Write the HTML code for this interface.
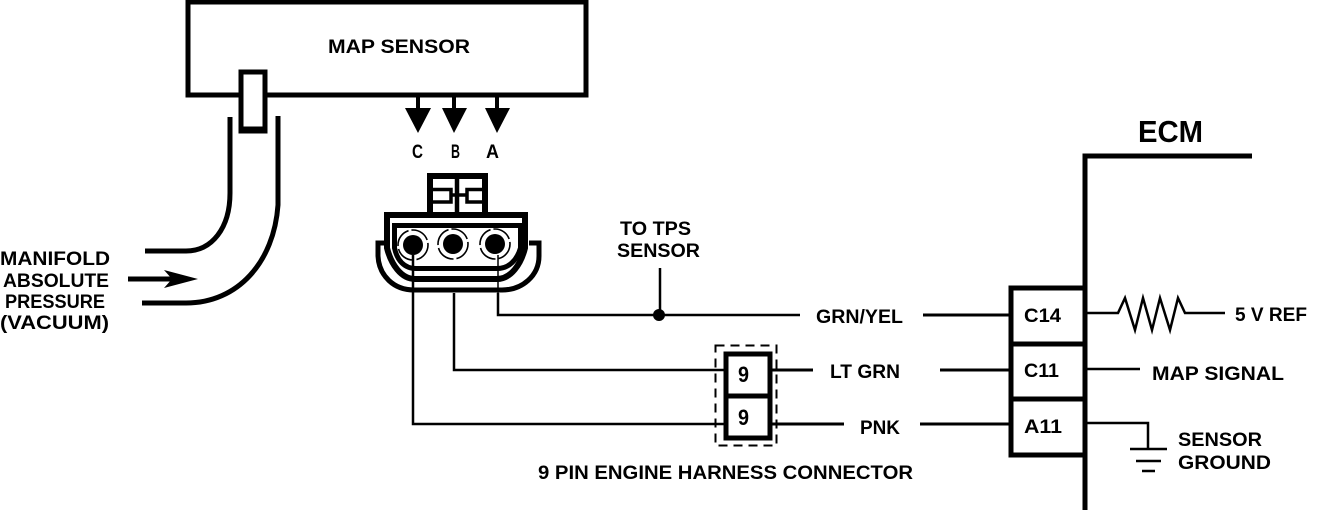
<!DOCTYPE html>
<html><head><meta charset="utf-8"><style>
html,body{margin:0;padding:0;background:#fff}
svg{display:block}
text{font-family:"Liberation Sans",sans-serif;font-weight:bold;fill:#000}
</style></head><body>
<svg width="1328" height="510" viewBox="0 0 1328 510" xmlns="http://www.w3.org/2000/svg">
<g fill="none" stroke="#000" stroke-width="5">
<!-- map box -->
<path d="M188,2 H586 V95 H188 Z"/>
<rect x="241" y="72" width="24" height="59" fill="#fff" stroke-width="5"/>
<path d="M239,130 H267" stroke-width="7"/>
<!-- tube -->
<path d="M230,117 V193 C230,228 212,251 186,251 H145" stroke-width="5"/>
<path d="M278,116 V205 C274,262 238,303 186,303 H142" stroke-width="5"/>
<path d="M128,279 H172" stroke-width="5"/>
<!-- arrow stems -->
<path d="M418,96 V110 M454,96 V110 M497,96 V110" stroke-width="4"/>
<!-- connector top latch -->
<path d="M430,212 V176 H485 V212" stroke-width="6"/>
<path d="M433,189.500 H451 V202 H433" stroke-width="3.500"/>
<path d="M483,189.500 H467 V202 H483" stroke-width="3.500"/>
<path d="M457,176 V212" stroke-width="4.500"/>
<path d="M451,195 H467" stroke-width="3.500"/>
<!-- connector body -->
<path d="M387,248 V215 H525 V248 C521,264 511,279 497,279 H415 C401,279 391,264 387,248 Z" stroke-width="6" fill="#fff"/>
<path d="M394.500,225.500 H520.500 V248 C517,260 509,268.500 497,268.500 H416 C404,268.500 397,260 394.500,248 Z" stroke-width="5"/>
<path d="M386,243 H378 V256 C379,276 394,290 414,290 H502 C522,290 539,276 539,256 V243 H529" stroke-width="5"/>
<g stroke-width="1.6" stroke-dasharray="20 3"><circle cx="413" cy="245" r="15"/><circle cx="453" cy="244" r="15"/><circle cx="495" cy="244" r="15"/></g>
<!-- wires -->
<path d="M413,255 V424 H724" stroke-width="2.500"/>
<path d="M454,293 V370 H724" stroke-width="2.500"/>
<path d="M498,293 V315 H800" stroke-width="2.500"/>
<path d="M498,255 V293" stroke-width="1.500"/>
<path d="M660,268 V315" stroke-width="2.500"/>
<path d="M923,315 H1011 M940,370 H1011 M920,424 H1011" stroke-width="3"/>
<path d="M771,370 H813 M771,424 H844" stroke-width="3"/>
<!-- 9 pin -->
<rect x="726" y="354" width="44" height="84" stroke-width="5"/>
<path d="M726,396 H770" stroke-width="5"/>
<rect x="715.500" y="345.500" width="61" height="100" stroke-width="2" stroke-dasharray="9 6"/>
<!-- ecm -->
<path d="M1252,156 H1085 V510" stroke-width="5"/>
<path d="M1085,288 H1011 V455 H1085 M1011,344 H1085 M1011,399 H1085" stroke-width="5"/>
<path d="M1086,313 H1118 L1125,298 L1135,330 L1143,298 L1152,330 L1160,298 L1170,330 L1178,298 L1185,313 H1225" stroke-width="2.500"/>
<path d="M1086,369 H1140" stroke-width="2.500"/>
<path d="M1086,423 H1148 V449" stroke-width="2.500"/>
<path d="M1130,449 H1167 M1136,461 H1161 M1142,471 H1155" stroke-width="2.500"/>
</g>
<g fill="#000">
<polygon points="405,108 431,108 418,133"/>
<polygon points="442,108 467,108 454,133"/>
<polygon points="485,108 510,108 497,133"/>
<polygon points="164,270 198,279 164,288 172,279"/>
<circle cx="413" cy="245" r="10"/><circle cx="453" cy="244" r="10"/><circle cx="495" cy="244" r="10"/>
<circle cx="659" cy="315" r="6"/>
</g>
<g font-size="19">
<text x="328" y="53" textLength="142" lengthAdjust="spacingAndGlyphs">MAP SENSOR</text>
<text x="412" y="158" textLength="11" lengthAdjust="spacingAndGlyphs">C</text>
<text x="451" y="158" textLength="9" lengthAdjust="spacingAndGlyphs">B</text>
<text x="486" y="158" textLength="13" lengthAdjust="spacingAndGlyphs">A</text>
<text x="0" y="265" textLength="110" lengthAdjust="spacingAndGlyphs">MANIFOLD</text>
<text x="3" y="287" textLength="106" lengthAdjust="spacingAndGlyphs">ABSOLUTE</text>
<text x="5" y="308" textLength="100" lengthAdjust="spacingAndGlyphs">PRESSURE</text>
<text x="0" y="329" textLength="109" lengthAdjust="spacingAndGlyphs">(VACUUM)</text>
<text x="620" y="235" textLength="71" lengthAdjust="spacingAndGlyphs">TO TPS</text>
<text x="617" y="257" textLength="83" lengthAdjust="spacingAndGlyphs">SENSOR</text>
<text x="816" y="323" textLength="87" lengthAdjust="spacingAndGlyphs">GRN/YEL</text>
<text x="830" y="378" textLength="70" lengthAdjust="spacingAndGlyphs">LT GRN</text>
<text x="860" y="434" textLength="40" lengthAdjust="spacingAndGlyphs">PNK</text>
<text x="738" y="382" textLength="11" lengthAdjust="spacingAndGlyphs" font-size="22">9</text>
<text x="738" y="425" textLength="11" lengthAdjust="spacingAndGlyphs" font-size="22">9</text>
<text x="538" y="479" textLength="375" lengthAdjust="spacingAndGlyphs">9 PIN ENGINE HARNESS CONNECTOR</text>
<text x="1138" y="142" textLength="65" lengthAdjust="spacingAndGlyphs" font-size="31">ECM</text>
<text x="1024" y="322" textLength="37" lengthAdjust="spacingAndGlyphs">C14</text>
<text x="1024" y="377" textLength="35" lengthAdjust="spacingAndGlyphs">C11</text>
<text x="1024" y="433" textLength="38" lengthAdjust="spacingAndGlyphs">A11</text>
<text x="1235" y="321" textLength="72" lengthAdjust="spacingAndGlyphs">5 V REF</text>
<text x="1152" y="380" textLength="132" lengthAdjust="spacingAndGlyphs">MAP SIGNAL</text>
<text x="1178" y="446" textLength="84" lengthAdjust="spacingAndGlyphs">SENSOR</text>
<text x="1178" y="469" textLength="93" lengthAdjust="spacingAndGlyphs">GROUND</text>
</g>
</svg>
</body></html>
